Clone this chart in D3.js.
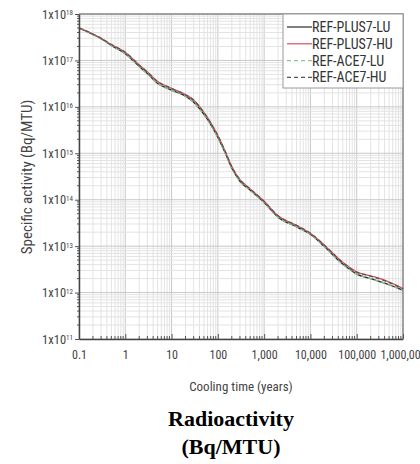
<!DOCTYPE html>
<html>
<head>
<meta charset="utf-8">
<script src="https://cdn.jsdelivr.net/npm/d3@7"></script>
<style>
body { margin: 0; background: #fff; }
svg { display: block; }
.tick text { font-family: "Liberation Sans Narrow", "Roboto Condensed", "DejaVu Sans Condensed", "Open Sans", sans-serif; fill: #444; }
</style>
</head>
<body>
<script>
// Data
var years = [0.1, 0.2, 0.3, 0.5, 1, 2, 3, 5, 10, 20, 30, 50, 70, 100, 150, 200, 300, 500,
	1000, 2000, 5000, 1e4, 2e4, 5e4, 1e5, 2e5, 4e5, 1e6];
var plus7LU = [5.0e17, 3.6e17, 2.95e17, 2.1e17, 1.4e17, 7.4e16, 5.2e16, 3.2e16, 2.3e16, 1.7e16, 1.26e16, 6.9e15, 4.2e15, 2.2e15, 9.3e14, 4.8e14, 2.5e14, 1.6e14,
	8.7e13, 4.2e13, 2.6e13, 1.8e13, 9.8e12, 4.1e12, 2.5e12, 2.0e12, 1.6e12, 1.12e12];
var plus7HU = [5.0e17, 3.7e17, 3.0e17, 2.2e17, 1.5e17, 8.0e16, 5.7e16, 3.5e16, 2.5e16, 1.85e16, 1.4e16, 7.6e15, 4.6e15, 2.4e15, 1.0e15, 5.2e14, 2.7e14, 1.7e14,
	9.3e13, 4.5e13, 2.8e13, 1.9e13, 1.05e13, 4.5e12, 2.8e12, 2.3e12, 1.85e12, 1.22e12];
var ace7LU = [5.0e17, 3.6e17, 2.9e17, 2.1e17, 1.4e17, 7.3e16, 5.1e16, 3.2e16, 2.3e16, 1.7e16, 1.25e16, 6.8e15, 4.1e15, 2.2e15, 9.2e14, 4.7e14, 2.5e14, 1.6e14,
	8.6e13, 4.2e13, 2.6e13, 1.8e13, 9.7e12, 4.05e12, 2.5e12, 2.0e12, 1.6e12, 1.11e12];
var ace7HU = [5.0e17, 3.7e17, 3.0e17, 2.2e17, 1.5e17, 7.9e16, 5.6e16, 3.5e16, 2.5e16, 1.8e16, 1.4e16, 7.5e15, 4.5e15, 2.4e15, 1.0e15, 5.1e14, 2.7e14, 1.7e14,
	9.2e13, 4.5e13, 2.8e13, 1.9e13, 1.05e13, 4.4e12, 2.75e12, 2.25e12, 1.8e12, 1.2e12];
var seriesNames = ['REF-PLUS7-LU', 'REF-PLUS7-HU', 'REF-ACE7-LU', 'REF-ACE7-HU'];
var seriesValues = [plus7LU, plus7HU, ace7LU, ace7HU];
var xTicks = [0.1, 1, 10, 100, 1000, 1e4, 1e5, 1e6];
var yTicks = [1e11, 1e12, 1e13, 1e14, 1e15, 1e16, 1e17, 1e18];

var colors = ['#2b2b2b', '#d2505e', '#8cc88c', '#555555'];
var dashes = [null, null, '4,3', '4,3'];

var margin = {top: 14, right: 17, bottom: 125, left: 79};
var width = 420 - margin.left - margin.right;
var height = 464 - margin.top - margin.bottom;
var font = '"Liberation Sans Narrow", "Roboto Condensed", "DejaVu Sans Condensed", "Open Sans", sans-serif';

var root = d3.select('body')
	.append('svg')
	.attr('width', 420)
	.attr('height', 464);
var svg = root.append('g')
	.attr('transform', 'translate(' + margin.left + ',' + margin.top + ')');

var xScale = d3.scaleLog().domain([0.1, 1e6]).range([0, width]);
var yScale = d3.scaleLog().domain([1e11, 1e18]).range([height, 0]);

// grid
var xMinor = xScale.ticks(70);
var yMinor = yScale.ticks(70);
svg.append('g').selectAll('line')
	.data(xMinor)
	.enter().append('line')
	.attr('x1', function(d){ return xScale(d); })
	.attr('x2', function(d){ return xScale(d); })
	.attr('y1', 0).attr('y2', height)
	.attr('stroke', function(d){ return xTicks.indexOf(d) >= 0 ? '#c8c8c8' : '#e3e3e3'; })
	.attr('stroke-width', 1);
svg.append('g').selectAll('line')
	.data(yMinor)
	.enter().append('line')
	.attr('y1', function(d){ return yScale(d); })
	.attr('y2', function(d){ return yScale(d); })
	.attr('x1', 0).attr('x2', width)
	.attr('stroke', function(d){ return yTicks.indexOf(d) >= 0 ? '#c8c8c8' : '#e3e3e3'; })
	.attr('stroke-width', 1);

// frame top / right
svg.append('path')
	.attr('d', 'M0,0H' + width + 'V' + height)
	.attr('fill', 'none')
	.attr('stroke', '#8a8a8a')
	.attr('stroke-width', 1.5);

// lines
var line = d3.line()
	.x(function(d){ return xScale(d[0]); })
	.y(function(d){ return yScale(d[1]); })
	.curve(d3.curveMonotoneX);
seriesValues.forEach(function(vals, i){
	svg.append('path')
		.datum(years.map(function(t, j){ return [t, vals[j]]; }))
		.attr('d', line)
		.attr('fill', 'none')
		.attr('stroke', colors[i])
		.attr('stroke-width', 1.3)
		.attr('stroke-dasharray', dashes[i]);
});

// axes
var xAxis = d3.axisBottom(xScale)
	.tickValues(xTicks)
	.tickSizeInner(-5)
	.tickSizeOuter(0)
	.tickPadding(11)
	.tickFormat(function(d){ return d < 1 ? '0.1' : d3.format(',')(d); });
var gx = svg.append('g')
	.attr('transform', 'translate(0,' + height + ')')
	.call(xAxis);
gx.select('.domain').attr('stroke', '#444').attr('stroke-width', 1.5);
gx.selectAll('.tick line').attr('stroke', '#555');
gx.selectAll('.tick text').style('font-size', '12px').style('font-family', font);
gx.append('g').selectAll('line')
	.data(xMinor.filter(function(d){ return xTicks.indexOf(d) < 0; }))
	.enter().append('line')
	.attr('x1', function(d){ return xScale(d); })
	.attr('x2', function(d){ return xScale(d); })
	.attr('y1', 0).attr('y2', -3)
	.attr('stroke', '#555');

var yAxis = d3.axisLeft(yScale)
	.tickValues(yTicks)
	.tickSizeInner(4)
	.tickSizeOuter(0)
	.tickPadding(3)
	.tickFormat('');
var gy = svg.append('g').call(yAxis);
gy.select('.domain').attr('stroke', '#444').attr('stroke-width', 1.5);
gy.selectAll('.tick line').attr('stroke', '#555');
gy.selectAll('.tick').append('text')
	.attr('x', -6)
	.attr('dy', '0.32em')
	.attr('text-anchor', 'end')
	.style('font-size', '12.5px')
	.style('font-family', font)
	.each(function(d){
		var t = d3.select(this);
		t.append('tspan').text('1x10');
		t.append('tspan')
			.attr('dy', '-0.45em')
			.style('font-size', '7px')
			.text(Math.round(Math.log10(d)));
	});
gy.append('g').selectAll('line')
	.data(yMinor.filter(function(d){ return yTicks.indexOf(d) < 0; }))
	.enter().append('line')
	.attr('y1', function(d){ return yScale(d); })
	.attr('y2', function(d){ return yScale(d); })
	.attr('x1', 0).attr('x2', -2)
	.attr('stroke', '#555');

// axis labels
svg.append('text')
	.attr('x', width / 2)
	.attr('y', height + 52)
	.attr('text-anchor', 'middle')
	.style('font-family', font)
	.style('font-size', '13px')
	.style('fill', '#444')
	.text('Cooling time (years)');
root.append('text')
	.attr('transform', 'translate(32,' + (margin.top + 163) + ') rotate(-90)')
	.attr('text-anchor', 'middle')
	.style('font-family', font)
	.style('font-size', '15px')
	.style('fill', '#444')
	.text('Specific activity (Bq/MTU)');

// legend
var legend = svg.append('g')
	.attr('transform', 'translate(' + (width - 120) + ',0)');
legend.append('rect')
	.attr('width', 120)
	.attr('height', 74)
	.attr('fill', '#fff')
	.attr('stroke', '#999')
	.attr('stroke-width', 1);
var item = legend.selectAll('.item')
	.data(seriesNames)
	.enter().append('g')
	.attr('class', 'item')
	.attr('transform', function(d, i){ return 'translate(0,' + (13 + i * 16.8) + ')'; });
item.append('line')
	.attr('x1', 4).attr('x2', 29)
	.attr('stroke', function(d, i){ return colors[i]; })
	.attr('stroke-width', 1.2)
	.attr('stroke-dasharray', function(d, i){ return dashes[i]; });
item.append('text')
	.attr('x', 29)
	.attr('dy', '0.35em')
	.style('font-family', font)
	.style('font-size', '14px')
	.style('fill', '#333')
	.text(function(d){ return d; });

// title
root.append('text')
	.attr('x', 231)
	.attr('y', 426)
	.attr('text-anchor', 'middle')
	.style('font-family', '"Liberation Serif", "Times New Roman", serif')
	.style('font-weight', 'bold')
	.style('font-size', '22px')
	.text('Radioactivity');
root.append('text')
	.attr('x', 231)
	.attr('y', 454)
	.attr('text-anchor', 'middle')
	.style('font-family', '"Liberation Serif", "Times New Roman", serif')
	.style('font-weight', 'bold')
	.style('font-size', '22px')
	.text('(Bq/MTU)');
</script>
</body>
</html>
